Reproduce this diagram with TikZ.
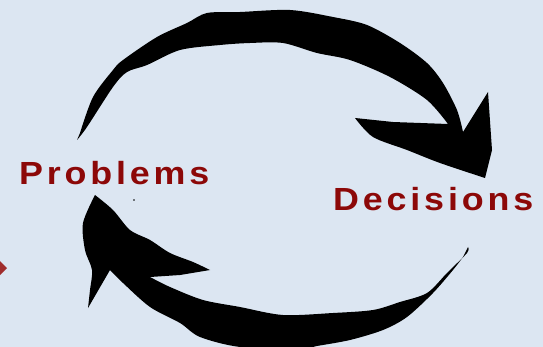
\documentclass[tikz,border=0pt]{standalone}
\usepackage{fontspec}
\setmainfont{Liberation Sans}
\newfontfamily\lblfont[LetterSpace=12,FakeStretch=1.12]{Liberation Sans}
\definecolor{bgblue}{RGB}{220,230,242}
\definecolor{lblred}{RGB}{140,8,8}
\definecolor{ptrred}{RGB}{160,45,45}
\tikzset{
  lbl/.style={font=\lblfont\bfseries\fontsize{32}{36}\selectfont, text=lblred, inner sep=0pt, anchor=base west},
  brush/.style={fill=black}
}
\begin{document}
\begin{tikzpicture}[x=1pt,y=-1pt]
\fill[bgblue] (0,0) rectangle (543,347);
\useasboundingbox (0,0) rectangle (543,347);
% top arrow
\fill[brush] (77,140)
  -- plot[smooth, tension=0.5] coordinates {(80,133) (93,97) (113,70) (123,60) (157,37) (187,23) (207,13) (240,12) (290,10) (333,17) (367,25) (400,43) (427,63) (443,83) (457,110) (463,132)}
  -- (488,92) -- (492,150) -- (485,178)
  -- plot[smooth, tension=0.5] coordinates {(485,178) (440,163) (407,150) (373,137) (355,118)}
  -- (393,122) -- (448,124)
  -- plot[smooth, tension=0.5] coordinates {(448,124) (427,100) (390,77) (350,60) (317,53) (283,43) (250,43) (220,45) (180,50) (147,65) (127,72) (113,87) (87,127) (77,140)}
  -- cycle;
% bottom arrow
\fill[brush] (95,195)
  -- plot[smooth, tension=0.5] coordinates {(95,195) (113,210) (130,230) (150,240) (170,253) (193,262) (210,270)}
  -- (180,275) -- (150,277)
  -- plot[smooth, tension=0.5] coordinates {(150,277) (170,287) (203,300) (240,307) (283,315) (333,313) (373,310) (400,302) (427,293) (447,273) (467,253) (468,247)}
  -- plot[smooth, tension=0.5] coordinates {(463,257) (453,270) (433,293) (407,317) (383,330) (350,340) (317,346) (300,349) (240,347) (200,337) (180,323) (150,307) (123,283) (110,270)}
  -- (88,308)
  -- plot[smooth, tension=0.5] coordinates {(88,308) (90,290) (92,270) (85,250) (83,223) (95,195)}
  -- cycle;
\fill[black] (134,200) circle (0.8);
% small pointer at left edge
\fill[ptrred] (0,261) -- (7,268) -- (0,275) -- cycle;
% labels
\node[lbl] (problems) at (19,185) {Problems};
\node[lbl] (decisions) at (333,211) {Decisions};
\end{tikzpicture}
\end{document}
